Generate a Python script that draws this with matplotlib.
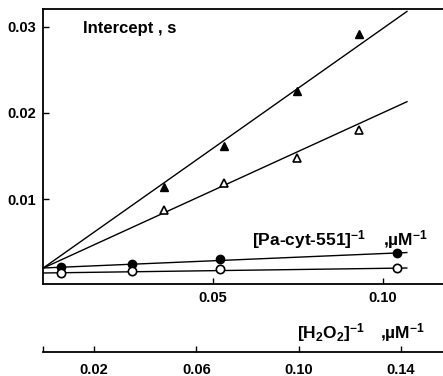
import matplotlib
matplotlib.use('Agg')
import matplotlib.pyplot as plt
import numpy as np

plt.rcParams['font.family'] = ['Liberation Sans', 'DejaVu Sans']
plt.rcParams['font.weight'] = 'bold'
plt.rcParams['mathtext.default'] = 'regular'

# [Pa-cyt-551]^-1 series (upper x scale)
pa_x = [0.0053, 0.0262, 0.0521, 0.1041]
pa_filled = [0.00209, 0.00244, 0.00302, 0.00372]
pa_open = [0.00140, 0.00163, 0.00186, 0.00198]

# [H2O2]^-1 series (lower x scale)
h2o2_x = [0.0473, 0.0708, 0.0994, 0.1236]
h2o2_filled = [0.0114, 0.0162, 0.0226, 0.0292]
h2o2_open = [0.00872, 0.01186, 0.01477, 0.01802]

# drawn lines: (intercept, slope)
pa_lines = [(0.00198, 0.0168), (0.00140, 0.0054)]
pa_line_end = 0.107
h2o2_lines = [(0.00196, 0.2096), (0.00196, 0.1359)]
h2o2_line_end = 0.1424

fig = plt.figure(figsize=(4.43, 3.76), dpi=100)
ax = fig.add_axes([43 / 443, 92 / 376, 400 / 443, 275 / 376])
ax.set_xlim(0, 0.11765)
ax.set_ylim(0.00012, 0.03209)

for a, b in pa_lines:
    xx = np.array([0, pa_line_end])
    ax.plot(xx, a + b * xx, color='black', lw=1.0)
ax.plot(pa_x, pa_filled, 'o', color='black', ms=6, zorder=3)
ax.plot(pa_x, pa_open, 'o', mfc='white', mec='black', mew=1.2, ms=6, zorder=3)

ax.set_xticks([0.05, 0.10])
ax.set_xticklabels(['0.05', '0.10'])
ax.set_yticks([0.01, 0.02, 0.03])
ax.set_yticklabels(['0.01', '0.02', '0.03'])
ax.tick_params(direction='in', length=4, width=1, labelsize=10.5, pad=5)
ax.spines['right'].set_visible(False)
for s in ['left', 'bottom', 'top']:
    ax.spines[s].set_linewidth(1.3)

ax2 = ax.twiny()
ax2.set_xlim(0, 0.1565)
for a, b in h2o2_lines:
    xx = np.array([0, h2o2_line_end])
    ax2.plot(xx, a + b * xx, color='black', lw=1.0)
ax2.plot(h2o2_x, h2o2_filled, '^', color='black', ms=6, zorder=3)
ax2.plot(h2o2_x, h2o2_open, '^', mfc='white', mec='black', mew=1.2, ms=6, zorder=3)

ax2.xaxis.set_ticks_position('bottom')
ax2.xaxis.set_label_position('bottom')
ax2.spines['bottom'].set_position(('axes', -68 / 275))
ax2.spines['bottom'].set_linewidth(1.3)
for s in ['top', 'left', 'right']:
    ax2.spines[s].set_visible(False)
ax2.set_xticks([0.0, 0.02, 0.06, 0.10, 0.14])
ax2.set_xticklabels(['', '0.02', '0.06', '0.10', '0.14'])
ax2.tick_params(direction='in', length=4, width=1, labelsize=10.5, pad=8)

fig.text(83 / 443, 1 - 29 / 376, 'Intercept , s', fontsize=12, va='center', ha='left')
fig.text(252 / 443, 1 - 240 / 376, '[Pa-cyt-551]$^{-1}$', fontsize=12.5, va='center', ha='left')
fig.text(383 / 443, 1 - 240 / 376, ',µM$^{-1}$', fontsize=12.5, va='center', ha='left')
fig.text(297 / 443, 1 - 333 / 376, '[H$_2$O$_2$]$^{-1}$', fontsize=12.5, va='center', ha='left')
fig.text(380 / 443, 1 - 333 / 376, ',µM$^{-1}$', fontsize=12.5, va='center', ha='left')

fig.savefig('out.png', dpi=100)
